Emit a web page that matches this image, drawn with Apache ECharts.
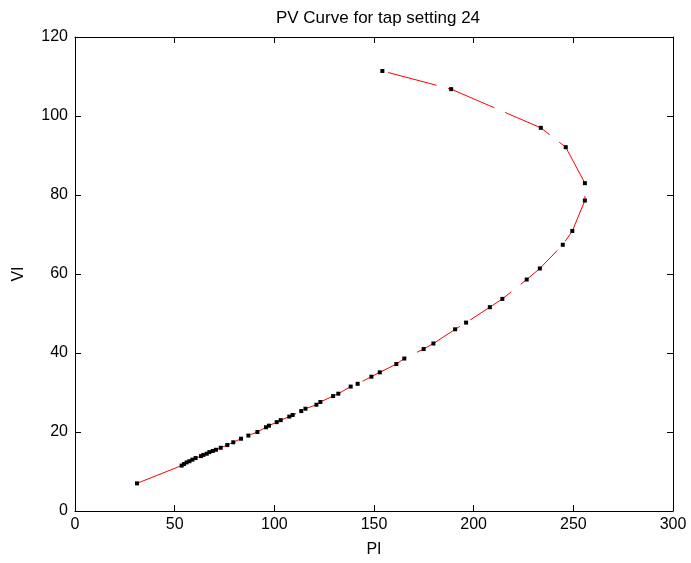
<!DOCTYPE html>
<html>
<head>
<meta charset="utf-8">
<script src="https://cdn.jsdelivr.net/npm/echarts@6/dist/echarts.min.js"></script>
<style>html,body{margin:0;padding:0;background:#fff;}#c{width:691px;height:563px;}</style>
</head>
<body>
<div id="c"></div>
<script>
var titleText = 'PV Curve for tap setting 24';
var xName = 'PI';
var yName = 'VI';
var xTicks = [0, 50, 100, 150, 200, 250, 300];
var yTicks = [0, 20, 40, 60, 80, 100, 120];
var pValues = [31.1, 53.5, 54.7, 56.0, 57.4, 58.9, 60.5, 63.2, 64.4, 66.1, 67.4, 69.1, 70.7, 73.1, 76.4, 79.4, 83.3, 87.0, 91.5, 95.8, 97.3, 101.2, 103.2, 107.5, 109.2, 113.5, 115.6, 121.1, 123.1, 129.5, 132.1, 138.3, 141.8, 148.7, 152.9, 161.2, 165.2, 174.9, 179.8, 190.7, 196.2, 208.1, 214.4, 226.6, 233.2, 244.7, 249.5, 255.8, 255.8, 246.2, 233.7, 188.7, 154.2];
var vValues = [7.0, 11.5, 11.9, 12.3, 12.6, 13.0, 13.4, 13.9, 14.2, 14.5, 14.9, 15.2, 15.5, 16.0, 16.7, 17.4, 18.3, 19.1, 20.0, 21.2, 21.6, 22.5, 23.0, 23.9, 24.3, 25.3, 25.9, 26.9, 27.6, 29.1, 29.7, 31.5, 32.2, 34.0, 35.1, 37.2, 38.6, 41.0, 42.4, 46.0, 47.7, 51.6, 53.7, 58.6, 61.4, 67.4, 70.9, 78.6, 83.0, 92.1, 97.0, 106.8, 111.4];

var data = pValues.map(function (p, i) { return [p, vValues[i]]; });
var font = 'Liberation Sans, Arial, sans-serif';
var fs = 16;
function axisBase(extra) {
  var a = {
    type: 'value',
    axisLine: { show: true, onZero: false, lineStyle: { color: '#000', width: 1 } },
    axisTick: { show: true, inside: true, length: 6, lineStyle: { color: '#000' } },
    splitLine: { show: false },
    axisLabel: { color: '#000', fontFamily: font, fontSize: fs }
  };
  for (var k in extra) a[k] = extra[k];
  return a;
}
var chart = echarts.init(document.getElementById('c'), null, { renderer: 'canvas' });
chart.setOption({
  animation: false,
  backgroundColor: '#fff',
  title: {
    text: titleText, left: 373, top: 5, textAlign: 'center',
    textStyle: { fontFamily: font, fontSize: 17, fontWeight: 'normal', color: '#000' }
  },
  grid: { left: 75, right: 18, top: 37, bottom: 47 },
  xAxis: [
    axisBase({ min: xTicks[0], max: xTicks[xTicks.length - 1], interval: 50, position: 'bottom',
      name: xName, nameLocation: 'middle', nameGap: 31,
      nameTextStyle: { fontFamily: font, fontSize: fs, color: '#000' },
      axisLabel: { color: '#000', fontFamily: font, fontSize: fs, margin: 6 } }),
    axisBase({ min: xTicks[0], max: xTicks[xTicks.length - 1], interval: 50, position: 'top',
      axisLabel: { show: false } })
  ],
  yAxis: [
    axisBase({ min: yTicks[0], max: yTicks[yTicks.length - 1], interval: 20, position: 'left',
      name: yName, nameLocation: 'middle', nameGap: 48,
      nameTextStyle: { fontFamily: font, fontSize: fs, color: '#000' },
      axisLabel: { color: '#000', fontFamily: font, fontSize: fs, margin: 7 } }),
    axisBase({ min: yTicks[0], max: yTicks[yTicks.length - 1], interval: 20, position: 'right',
      axisLabel: { show: false } })
  ],
  series: [{
    type: 'line',
    data: data,
    xAxisIndex: 0, yAxisIndex: 0,
    symbol: 'rect', symbolSize: 4,
    itemStyle: { color: '#000' },
    lineStyle: { color: '#ff0000', width: 1, type: [50, 12] },
    silent: true
  }]
});
</script>
</body>
</html>
